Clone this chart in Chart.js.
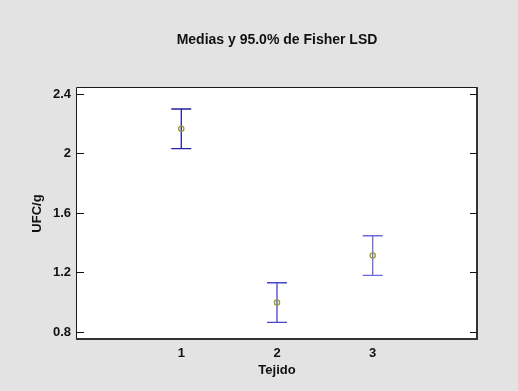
<!DOCTYPE html>
<html lang="es">
<head>
  <meta charset="UTF-8" />
  <title>Medias y 95.0% de Fisher LSD</title>
  <script src="https://cdn.jsdelivr.net/npm/chart.js"></script>
  <style>
    html, body { margin: 0; padding: 0; background: #e3e3e3; }
    #wrap { width: 518px; height: 391px; }
  </style>
</head>
<body>
  <div id="wrap"><canvas id="lsdChart"></canvas></div>
  <script>
    // datos
    const groups = [1, 2, 3];
    const means = [2.166, 0.998, 1.314];
    const lower = [2.033, 0.865, 1.181];
    const upper = [2.299, 1.131, 1.447];
    const yTicks = [0.8, 1.2, 1.6, 2.0, 2.4];

    const barColors = ["#22229a", "#4646c8", "#6a6ade"];
    const font = "Liberation Sans, Arial, sans-serif";

    const lsdPlugin = {
      id: "lsd",
      beforeDraw(chart) {
        const { ctx, chartArea: a } = chart;
        ctx.save();
        ctx.fillStyle = "#e3e3e3";
        ctx.fillRect(0, 0, chart.width, chart.height);
        ctx.fillStyle = "#ffffff";
        ctx.fillRect(a.left, a.top, a.right - a.left, a.bottom - a.top);
        // titulo centrado sobre el area del grafico
        ctx.fillStyle = "#111";
        ctx.font = "bold 14px " + font;
        ctx.textAlign = "center";
        ctx.textBaseline = "alphabetic";
        ctx.fillText("Medias y 95.0% de Fisher LSD", (a.left + a.right) / 2, 44);
        ctx.restore();
      },
      beforeDatasetsDraw(chart) {
        const { ctx } = chart;
        const xs = chart.scales.x, ys = chart.scales.y;
        ctx.save();
        ctx.lineWidth = 1.3;
        groups.forEach((g, i) => {
          const x = xs.getPixelForValue(g);
          const y1 = ys.getPixelForValue(lower[i]);
          const y2 = ys.getPixelForValue(upper[i]);
          ctx.strokeStyle = barColors[i];
          ctx.beginPath();
          ctx.moveTo(x, y1); ctx.lineTo(x, y2);
          ctx.moveTo(x - 10, y1); ctx.lineTo(x + 10, y1);
          ctx.moveTo(x - 10, y2); ctx.lineTo(x + 10, y2);
          ctx.stroke();
        });
        ctx.restore();
      },
      afterDraw(chart) {
        const { ctx, chartArea: a } = chart;
        const ys = chart.scales.y;
        ctx.save();
        ctx.strokeStyle = "#1a1a1a";
        ctx.lineWidth = 1;
        ctx.beginPath();
        ctx.moveTo(a.left + 0.5, a.bottom);
        ctx.lineTo(a.left + 0.5, a.top + 0.5);
        ctx.lineTo(a.right, a.top + 0.5);
        ctx.stroke();
        ctx.strokeStyle = "#333";
        ctx.lineWidth = 2;
        ctx.beginPath();
        ctx.moveTo(a.right - 1, a.top);
        ctx.lineTo(a.right - 1, a.bottom - 1);
        ctx.lineTo(a.left, a.bottom - 1);
        ctx.stroke();
        // marcas hacia dentro
        ctx.strokeStyle = "#111";
        ctx.lineWidth = 1;
        ctx.beginPath();
        yTicks.forEach(v => {
          const y = Math.round(ys.getPixelForValue(v)) + 0.5;
          ctx.moveTo(a.left, y); ctx.lineTo(a.left + 8, y);
          ctx.moveTo(a.right - 8, y); ctx.lineTo(a.right - 1, y);
        });
        ctx.stroke();
        ctx.restore();
      }
    };

    new Chart(document.getElementById("lsdChart"), {
      type: "scatter",
      data: {
        datasets: [{
          data: groups.map((g, i) => ({ x: g, y: means[i] })),
          pointStyle: "circle",
          pointRadius: 2.6,
          pointBorderWidth: 1.3,
          pointBorderColor: "#9a9a30",
          pointBackgroundColor: "rgba(0,0,0,0)"
        }]
      },
      options: {
        responsive: true,
        maintainAspectRatio: false,
        animation: false,
        layout: { padding: { top: 87, right: 40, left: 0, bottom: 0 } },
        plugins: {
          legend: { display: false },
          title: { display: false },
          tooltip: { enabled: false }
        },
        scales: {
          x: {
            type: "linear",
            min: -0.1,
            max: 4.1,
            afterBuildTicks: s => { s.ticks = groups.map(v => ({ value: v })); },
            afterFit: s => { s.height = 51; },
            grid: { display: false, drawTicks: false },
            border: { display: false },
            ticks: {
              padding: 6,
              color: "#111",
              font: { family: font, size: 13, weight: "bold" },
              callback: v => String(v)
            },
            title: {
              display: true,
              text: "Tejido",
              color: "#111",
              font: { family: font, size: 13, weight: "bold" },
              padding: { top: 0, bottom: 13 }
            }
          },
          y: {
            min: 0.746,
            max: 2.447,
            afterBuildTicks: s => { s.ticks = yTicks.map(v => ({ value: v })); },
            afterFit: s => { s.width = 76; },
            grid: { display: false, drawTicks: false },
            border: { display: false },
            ticks: {
              padding: 5,
              color: "#111",
              font: { family: font, size: 13, weight: "bold" },
              callback: v => String(+v.toFixed(1))
            },
            title: {
              display: true,
              text: "UFC/g",
              color: "#111",
              font: { family: font, size: 13, weight: "bold" },
              padding: { top: 30, bottom: 0 }
            }
          }
        }
      },
      plugins: [lsdPlugin]
    });
  </script>
</body>
</html>
